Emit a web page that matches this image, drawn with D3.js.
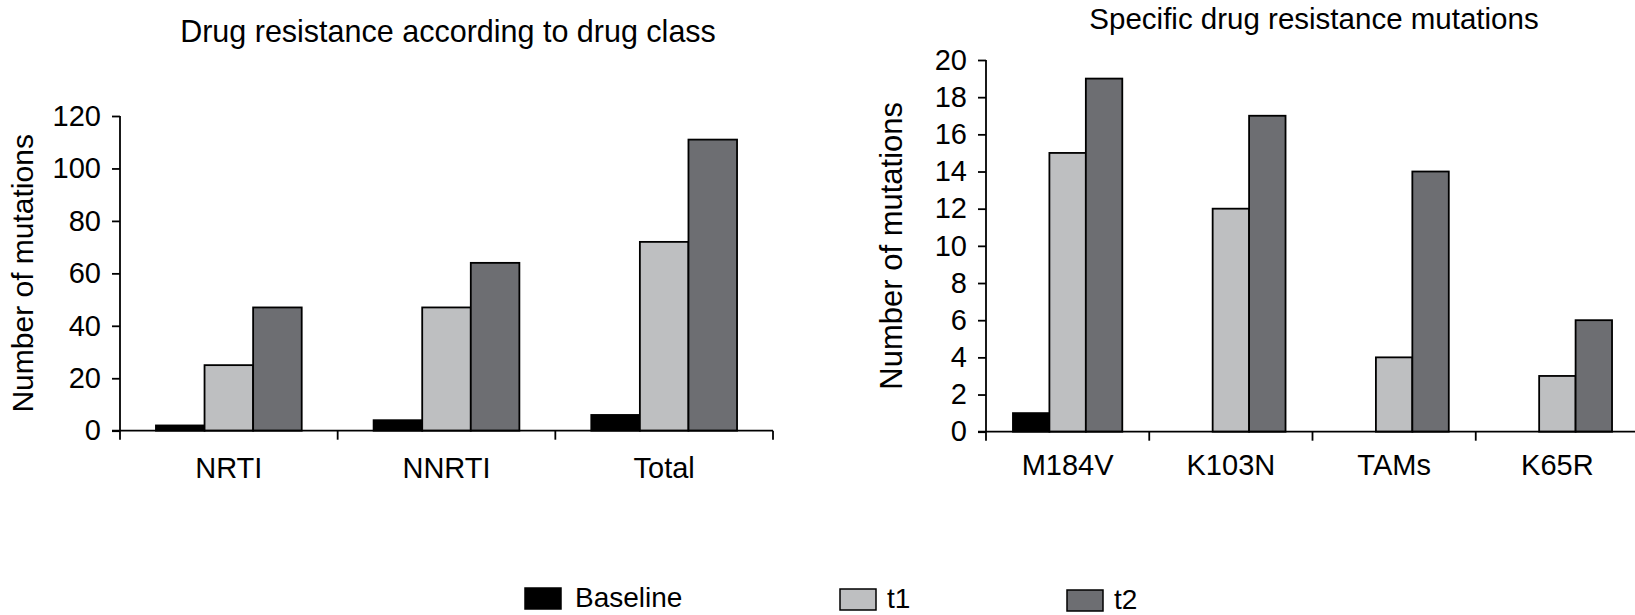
<!DOCTYPE html>
<html>
<head>
<meta charset="utf-8">
<script src="https://cdn.jsdelivr.net/npm/d3@7"></script>
<style>
  body { margin: 0; background: #fff; }
  svg { display: block; font-family: "Liberation Sans", Arial, Helvetica, sans-serif; }
</style>
</head>
<body>
<svg id="chart" width="1635" height="615"></svg>
<script>
// data
var series = ["Baseline", "t1", "t2"];
var colors = ["#000000", "#bebfc1", "#6d6e72"];

var classCats = ["NRTI", "NNRTI", "Total"];
var classBaseline = [2, 4, 6];
var classT1 = [25, 47, 72];
var classT2 = [47, 64, 111];
var classTicks = [0, 20, 40, 60, 80, 100, 120];

var mutCats = ["M184V", "K103N", "TAMs", "K65R"];
var mutBaseline = [1, 0, 0, 0];
var mutT1 = [15, 12, 4, 3];
var mutT2 = [19, 17, 14, 6];
var mutTicks = [0, 2, 4, 6, 8, 10, 12, 14, 16, 18, 20];

var svg = d3.select("#chart");

drawPanel({
    title: "Drug resistance according to drug class",
    titleX: 448, titleY: 42, titleSize: 30.5,
    cats: classCats,
    values: [classBaseline, classT1, classT2],
    ticks: classTicks,
    xRange: [120, 773], yRange: [430.7, 116],
    labelX: 33, labelSize: 30,
    catDy: 47
});

drawPanel({
    title: "Specific drug resistance mutations",
    titleX: 1314, titleY: 29, titleSize: 29.5,
    cats: mutCats,
    values: [mutBaseline, mutT1, mutT2],
    ticks: mutTicks,
    xRange: [986, 1639], yRange: [431.7, 60],
    labelX: 902, labelSize: 31,
    catDy: 43
});

drawLegend();

function drawPanel(p) {
    var g = svg.append("g");
    var x0 = d3.scaleBand().domain(p.cats).range(p.xRange).padding(0);
    var x1 = d3.scaleBand().domain(series).range([0, x0.bandwidth()])
        .paddingInner(0).paddingOuter(0.74);
    var ymax = p.ticks[p.ticks.length - 1];
    var y = d3.scaleLinear().domain([0, ymax]).range(p.yRange);

    // bars
    var rows = [];
    p.cats.forEach(function(c, i) {
        series.forEach(function(s, j) {
            if (p.values[j][i] > 0) rows.push({cat: c, s: s, j: j, v: p.values[j][i]});
        });
    });
    g.selectAll("rect.bar").data(rows).enter()
        .append("rect")
        .attr("class", "bar")
        .attr("x", function(d) { return x0(d.cat) + x1(d.s); })
        .attr("y", function(d) { return y(d.v); })
        .attr("width", x1.bandwidth())
        .attr("height", function(d) { return y(0) - y(d.v); })
        .attr("fill", function(d) { return colors[d.j]; })
        .attr("stroke", "#000")
        .attr("stroke-width", 1.8);

    // y axis
    var ya = g.append("g")
        .attr("transform", "translate(" + p.xRange[0] + ",0)")
        .call(d3.axisLeft(y).tickValues(p.ticks).tickSize(8).tickPadding(11).tickSizeOuter(0));
    ya.select(".domain").remove();
    ya.selectAll("line").attr("stroke", "#000").attr("stroke-width", 1.8);
    ya.selectAll("text").attr("font-size", 29).attr("fill", "#000")
        .attr("font-family", "Liberation Sans, Arial, sans-serif");
    g.append("line")
        .attr("x1", p.xRange[0]).attr("x2", p.xRange[0])
        .attr("y1", y(ymax)).attr("y2", y(0) + 9)
        .attr("stroke", "#000").attr("stroke-width", 1.8);

    // x axis
    g.append("line")
        .attr("x1", p.xRange[0] - 8).attr("x2", p.xRange[1])
        .attr("y1", y(0)).attr("y2", y(0))
        .attr("stroke", "#000").attr("stroke-width", 1.8);
    var bounds = p.cats.map(function(c) { return x0(c); }).concat([p.xRange[1]]);
    g.selectAll("line.xtick").data(bounds.slice(1)).enter()
        .append("line")
        .attr("class", "xtick")
        .attr("x1", function(d) { return d; }).attr("x2", function(d) { return d; })
        .attr("y1", y(0)).attr("y2", y(0) + 9)
        .attr("stroke", "#000").attr("stroke-width", 1.8);
    g.selectAll("text.cat").data(p.cats).enter()
        .append("text")
        .attr("class", "cat")
        .attr("x", function(d) { return x0(d) + x0.bandwidth() / 2; })
        .attr("y", y(0) + p.catDy)
        .attr("text-anchor", "middle")
        .attr("font-size", 29)
        .text(function(d) { return d; });

    // y label
    g.append("text")
        .attr("transform", "translate(" + p.labelX + "," + ((p.yRange[0] + p.yRange[1]) / 2) + ") rotate(-90)")
        .attr("text-anchor", "middle")
        .attr("font-size", p.labelSize)
        .text("Number of mutations");

    // title
    g.append("text")
        .attr("x", p.titleX).attr("y", p.titleY)
        .attr("text-anchor", "middle")
        .attr("font-size", p.titleSize)
        .text(p.title);
}

function drawLegend() {
    // legend key positions (the reference spaces them unevenly)
    var pos = [{x: 525, y: 588}, {x: 840, y: 589}, {x: 1067, y: 590}];
    var lg = svg.append("g").attr("class", "legend");
    var items = lg.selectAll("g").data(series).enter().append("g")
        .attr("transform", function(d, i) { return "translate(" + pos[i].x + "," + pos[i].y + ")"; });
    items.append("rect")
        .attr("width", 36).attr("height", 21)
        .attr("fill", function(d, i) { return colors[i]; })
        .attr("stroke", "#000").attr("stroke-width", 1.5);
    items.append("text")
        .attr("x", function(d, i) { return i == 0 ? 50 : 47; })
        .attr("y", 19)
        .attr("font-size", 28)
        .text(function(d) { return d; });
}
</script>
</body>
</html>
